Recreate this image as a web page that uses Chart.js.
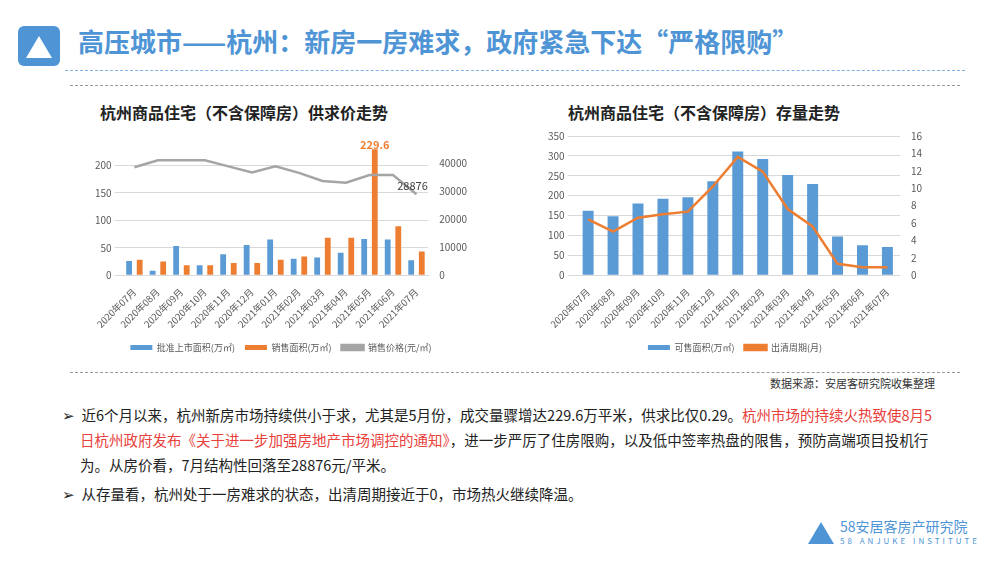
<!DOCTYPE html>
<html><head><meta charset="utf-8">
<script src="https://cdn.jsdelivr.net/npm/chart.js@4/dist/chart.umd.min.js"></script>
<style>
body{margin:0;width:1000px;height:563px;background:#fff;font-family:"Noto Sans CJK SC",sans-serif;position:relative;overflow:hidden}
.abs{position:absolute}
#title{left:78px;top:22px;font-size:26px;font-weight:bold;color:#4f95d6;letter-spacing:0px}
.ct{font-size:16px;font-weight:bold;color:#222}
#txt{left:62px;top:402px;width:880px;font-size:14.5px;line-height:25px;color:#222}
#txt p{margin:0;padding-left:18px;text-indent:-18px}
.red{color:#e8413c}
</style></head><body>
<div class="abs" style="left:18px;top:26px;width:42px;height:40px;background:#4f95d6;border-radius:6px"></div>
<div class="abs" style="left:26px;top:36px;width:0;height:0;border-left:13px solid transparent;border-right:13px solid transparent;border-bottom:22px solid #fff"></div>
<div id="title" class="abs">高压城市——杭州：新房一房难求，政府紧急下达“严格限购”</div>
<div class="abs" style="left:65px;top:70px;width:900px;border-top:1.5px dashed #7fb0e0"></div>
<div class="abs" style="left:70px;top:85px;width:890px;border-top:1px dashed #999"></div>
<div class="abs" style="left:70px;top:372px;width:890px;border-top:1px dashed #999"></div>
<div class="abs ct" style="left:100px;top:100px">杭州商品住宅（不含保障房）供求价走势</div>
<div class="abs ct" style="left:568px;top:100px">杭州商品住宅（不含保障房）存量走势</div>
<div class="abs" style="left:92px;top:140px;width:378px;height:222px"><canvas id="c1"></canvas></div>
<div class="abs" style="left:545px;top:127px;width:380px;height:235px"><canvas id="c2"></canvas></div>
<div class="abs" style="left:770px;top:375px;font-size:11px;color:#333">数据来源：安居客研究院收集整理</div>
<div id="txt" class="abs">
<p>➢&nbsp;&nbsp;近6个月以来，杭州新房市场持续供小于求，尤其是5月份，成交量骤增达229.6万平米，供求比仅0.29。<span class="red">杭州市场的持续火热致使8月5日杭州政府发布《关于进一步加强房地产市场调控的通知》</span>，进一步严厉了住房限购，以及低中签率热盘的限售，预防高端项目投机行为。从房价看，7月结构性回落至28876元/平米。</p>
<p style="margin-top:4px">➢&nbsp;&nbsp;从存量看，杭州处于一房难求的状态，出清周期接近于0，市场热火继续降温。</p>
</div>
<div class="abs" style="left:808px;top:522px;width:26px;height:22px;background:#4f95d6;clip-path:polygon(50% 0,100% 100%,0 100%)"></div>
<div class="abs" style="left:840px;top:516px;font-size:14px;color:#4f95d6">58安居客房产研究院</div>
<div class="abs" style="left:840px;top:535px;font-size:8px;color:#4f95d6;letter-spacing:3px">58 ANJUKE INSTITUTE</div>
<script>
const months=["2020年07月","2020年08月","2020年09月","2020年10月","2020年11月","2020年12月","2021年01月","2021年02月","2021年03月","2021年04月","2021年05月","2021年06月","2021年07月"];
const approved=[26,8,53,18,38,55,65,30,32,41,66,65,27];
const sold=[28,25,18,18,22,22,28,34,68,68,229.6,89,43];
const price=[38500,41000,41000,41000,38800,36600,38800,36500,33600,33000,35700,35700,28876];
const stock=[162,148,180,192,196,236,311,292,252,229,97,75,71];
const cycle=[6.4,5.0,6.6,7.0,7.3,10.2,13.6,11.9,7.6,5.6,1.3,0.9,0.9];
const BLUE="#5b9bd5",OR="#ed7d31",GR="#a5a5a5";
Chart.defaults.font.family="'Noto Sans CJK SC',sans-serif";
Chart.defaults.font.size=10;Chart.defaults.color="#595959";
const labelPlugin={id:'lbl',afterDatasetsDraw(c){if(c.canvas.id!=='c1')return;const ctx=c.ctx;
 const m1=c.getDatasetMeta(1).data[10];ctx.save();ctx.font="bold 11px 'Noto Sans CJK SC'";ctx.fillStyle=OR;ctx.textAlign='center';ctx.fillText(String(sold[10]),m1.x,m1.y-4);
 const m2=c.getDatasetMeta(2).data[12];ctx.font="11px 'Noto Sans CJK SC'";ctx.fillStyle="#404040";ctx.fillText(String(price[12]),m2.x-4,m2.y-8);ctx.restore();}};
const xs={grid:{display:false},ticks:{maxRotation:45,minRotation:45,font:{size:9.5}},border:{color:'#d9d9d9'}};
const leg={position:'bottom',labels:{boxWidth:22,boxHeight:5,font:{size:9},color:'#595959',sort:(a,b)=>a.datasetIndex-b.datasetIndex}};
new Chart(c1,{data:{labels:months,datasets:[
 {type:'bar',label:'批准上市面积(万㎡)',data:approved,backgroundColor:BLUE,yAxisID:'y',barPercentage:0.55,categoryPercentage:0.9,order:2},
 {type:'bar',label:'销售面积(万㎡)',data:sold,backgroundColor:OR,yAxisID:'y',barPercentage:0.55,categoryPercentage:0.9,order:2},
 {type:'line',label:'销售价格(元/㎡)',data:price,borderColor:GR,backgroundColor:GR,borderWidth:2.5,pointRadius:0,yAxisID:'y1',order:1}]},
 options:{responsive:true,maintainAspectRatio:false,animation:false,layout:{padding:{top:8}},plugins:{legend:leg,tooltip:{enabled:false}},
 scales:{x:xs,y:{min:0,max:230,afterBuildTicks(a){a.ticks=[0,50,100,150,200].map(v=>({value:v}))},grid:{color:'#d9d9d9'},border:{display:false}},
 y1:{position:'right',min:0,max:45000,ticks:{stepSize:5000,callback:v=>String(v)},grid:{display:false},border:{display:false}}}},plugins:[labelPlugin]});
new Chart(c2,{data:{labels:months,datasets:[
 {type:'bar',label:'可售面积(万㎡)',data:stock,backgroundColor:BLUE,yAxisID:'y',barPercentage:0.55,order:2},
 {type:'line',label:'出清周期(月)',data:cycle,borderColor:OR,backgroundColor:OR,borderWidth:2.5,pointRadius:0,yAxisID:'y1',order:1}]},
 options:{responsive:true,maintainAspectRatio:false,animation:false,plugins:{legend:leg,tooltip:{enabled:false}},
 scales:{x:xs,y:{min:0,max:350,ticks:{stepSize:50},grid:{color:'#d9d9d9'},border:{display:false}},
 y1:{position:'right',min:0,max:16,ticks:{stepSize:2},grid:{display:false},border:{display:false}}}}});
</script></body></html>
